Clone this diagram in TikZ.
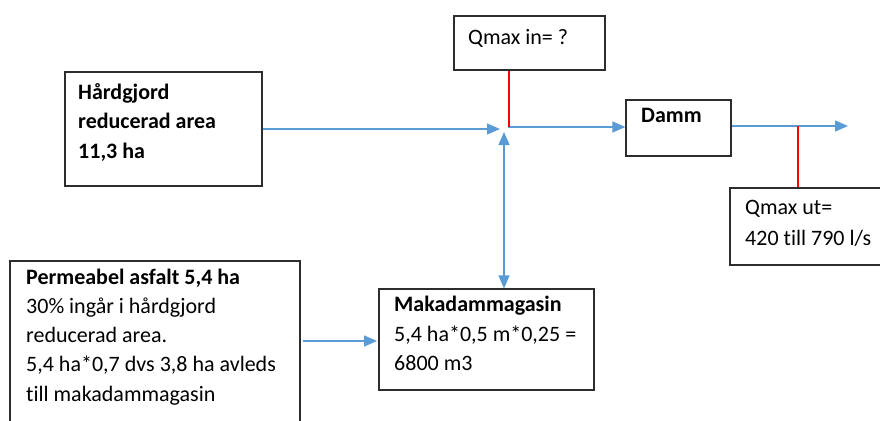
\documentclass[tikz,border=0pt]{standalone}
\usepackage{fontspec}
\setmainfont{Carlito}[Ligatures=NoCommon]
\usetikzlibrary{arrows.meta}
\definecolor{flowblue}{RGB}{91,155,213}
\definecolor{boxline}{RGB}{45,45,45}
\tikzset{
  box/.style={draw=boxline, line width=1.2pt, fill=white, inner sep=0pt},
  txt/.style={anchor=mid west, inner sep=0pt, font=\fontsize{22}{30}\selectfont},
  btxt/.style={txt, font=\fontsize{22}{30}\selectfont\bfseries},
  flow/.style={draw=flowblue, line width=1.5pt, -{Triangle[length=13pt,width=11pt]}},
  flowboth/.style={draw=flowblue, line width=1.5pt, {Triangle[length=13pt,width=11pt]}-{Triangle[length=13pt,width=11pt]}},
  tap/.style={draw=red, line width=1.1pt}
}
\begin{document}
\begin{tikzpicture}[x=1pt,y=-1pt]
\useasboundingbox (0,0) rectangle (880,420);
\clip (0,0) rectangle (880,420);

% boxes
\node[box, minimum width=197pt, minimum height=114pt] (hard) at (163.5,129) {};
\node[box, minimum width=151pt, minimum height=54pt] (qin) at (529.5,43) {};
\node[box, minimum width=105pt, minimum height=56pt] (damm) at (678.5,128) {};
\node[box, minimum width=160pt, minimum height=77pt] (qut) at (810,226.5) {};
\node[box, minimum width=290pt, minimum height=164pt] (perm) at (155,343) {};
\node[box, minimum width=215pt, minimum height=101pt] (maka) at (486.5,339.5) {};

% texts
\node[btxt] (h1) at (78,97) {Hårdgjord};
\node[btxt] (h2) at (78,126) {reducerad area};
\node[btxt] (h3) at (78,156) {11,3 ha};

\node[txt] (qi) at (468,42) {Qmax in= ?};
\node[btxt] (dm) at (641,120) {Damm};

\node[txt] (qu1) at (745,212) {Qmax ut=};
\node[txt] (qu2) at (745,243) {420 till 790 l/s};

\node[btxt] (p1) at (26,282) {Permeabel asfalt 5,4 ha};
\node[txt] (p2) at (26,311) {30\% ingår i hårdgjord};
\node[txt] (p3) at (26,340) {reducerad area.};
\node[txt] (p4) at (26,369) {5,4 ha*0,7 dvs 3,8 ha avleds};
\node[txt] (p5) at (26,399) {till makadammagasin};

\node[btxt] (m1) at (394,309) {Makadammagasin};
\node[txt] (m2) at (394,339) {5,4 ha*0,5 m*0,25 =};
\node[txt] (m3) at (394,368) {6800 m3};

% connector points
\coordinate (jin) at (500,129);
\coordinate (jout) at (508,127);
\coordinate (jtap) at (509,127);
\coordinate (vtop) at (504,132);
\coordinate (dout) at (848,126);
\coordinate (dtap) at (798,126);
\coordinate (pout) at (303,341);
\coordinate (min) at (377,341);

% connectors
\draw[flow] (hard.east) -- (jin);
\draw[flow] (jout) -- (damm.west |- jout);
\draw[tap] (qin.south -| jtap) -- (jtap);
\draw[flowboth] (vtop) -- (maka.north -| vtop);
\draw[flow] (damm.east |- dout) -- (dout);
\draw[tap] (dtap) -- (qut.north -| dtap);
\draw[flow] (pout) -- (min);
\end{tikzpicture}
\end{document}
